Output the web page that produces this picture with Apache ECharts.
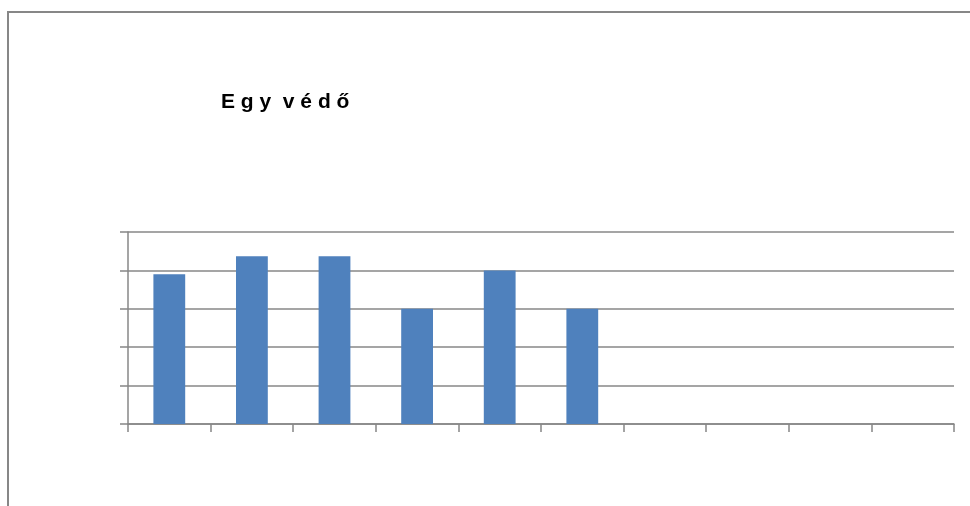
<!DOCTYPE html>
<html>
<head>
<meta charset="utf-8">
<script src="https://cdn.jsdelivr.net/npm/echarts@6/dist/echarts.min.js"></script>
<style>html,body{margin:0;padding:0;background:#fff}#c{width:970px;height:506px}</style>
</head>
<body>
<div id="c"></div>
<script>
var titleText = 'E g y  v é d ő';
var categories = ['1','2','3','4','5','6','7','8','9','10'];
var values = [3.9, 4.37, 4.37, 3, 4, 3, null, null, null, null];
var yMin = 0, yMax = 5, yInterval = 1;

var chart = echarts.init(document.getElementById('c'), null, {renderer:'canvas'});
chart.setOption({
  animation: false,
  backgroundColor: '#fff',
  title: {
    text: titleText, left: 216, top: 87,
    textStyle: {fontFamily: 'Liberation Sans', fontWeight: 'bold', fontSize: 21, color: '#000'}
  },
  graphic: [{
    type: 'rect', shape: {x: 8, y: 12, width: 1000, height: 600},
    style: {fill: 'none', stroke: '#878787', lineWidth: 2}, silent: true
  }],
  grid: {left: 128, right: 16, top: 232, bottom: 82, containLabel: false},
  xAxis: {
    type: 'category', data: categories,
    axisLine: {show: true, lineStyle: {color: '#878787', width: 1.5}},
    axisTick: {show: true, length: 8, inside: false, alignWithLabel: false, lineStyle: {color: '#878787', width: 1.5}},
    axisLabel: {show: false},
    splitLine: {show: false}
  },
  yAxis: {
    type: 'value', min: yMin, max: yMax, interval: yInterval,
    axisLine: {show: true, lineStyle: {color: '#878787', width: 1.5}},
    axisTick: {show: true, length: 8, lineStyle: {color: '#878787', width: 1.5}},
    axisLabel: {show: false},
    splitLine: {show: true, lineStyle: {color: '#878787', width: 1.5}}
  },
  series: [{
    type: 'bar', data: values, barWidth: '38.5%',
    itemStyle: {color: '#4f81bd'}
  }]
});
</script>
</body>
</html>
